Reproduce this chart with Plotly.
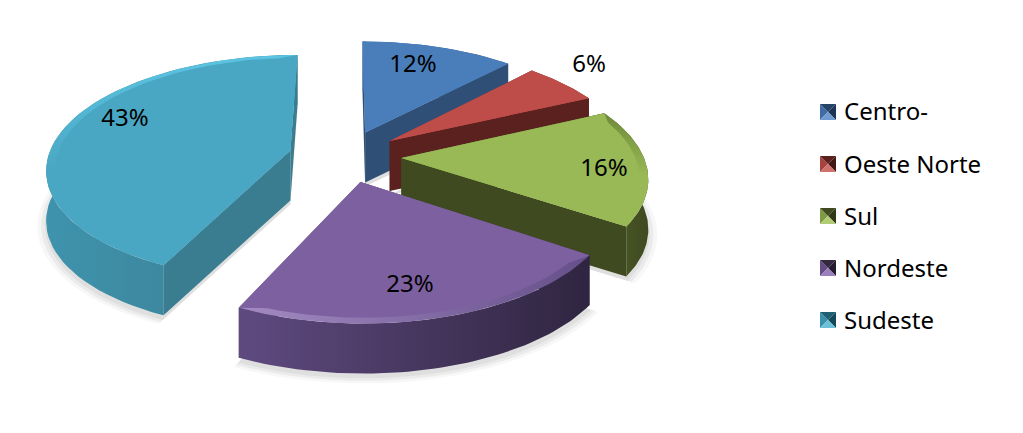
import math
import plotly.graph_objects as go

categories = ["Centro-", "Oeste Norte", "Sul", "Nordeste", "Sudeste"]
values = [12.0, 6.0, 16.45, 22.55, 43.0]
tick_labels = ["12%", "6%", "16%", "23%", "43%"]

top_colors = ["#4a7ebb", "#be4d4a", "#98b955", "#7d60a0", "#4aa7c3"]
cut_colors = ["#2f4f77", "#5a211f", "#3f4a20", "#33283f", "#3a7c90"]
rim_grad = [("#3f6ca5", "#2f4f77"), ("#8a3533", "#5a211f"), ("#4d5c28", "#3f4a20"),
            ("#5f4a80", "#2f2540"), ("#3f93ad", "#3a7c90")]
bevel_grad = [("horizontal", "#4a7ebb", "#4a7ebb"), ("horizontal", "#be4d4a", "#be4d4a"),
              ("vertical", "#98b955", "#6f8a38"), ("horizontal", "#a38ac2", "#66508a"),
              ("vertical", "#4aa7c3", "#5cc4e2")]
swatch = [("#3f6ca5", "#264468", "#1c3554", "#6f9bd1"),
          ("#a8423f", "#5a211f", "#421714", "#d0716e"),
          ("#7f9a45", "#3f4a20", "#2e3716", "#b0cc74"),
          ("#654b85", "#33283f", "#241b30", "#9a80ba"),
          ("#3a90aa", "#1f5f73", "#154858", "#6cc0d8")]
label_xy = [(413, 66), (589, 66), (604, 170), (410, 286), (125, 120)]

CX, CY, S, A, K, EXPL, H = 345.0, 156.0, 242.0, 111.5, 0.151, 0.233, 50.0
OFF = 8  # default page margin around the figure


def proj(u, v, z=0.0):
    d = 1 + K * v
    return CX + S * u / d, CY - A * v / d + z


def arc(a0, a1, bis, r=1.0, z=0.0, taper=False, n=60):
    xs, ys = [], []
    ou, ov = EXPL * math.sin(bis), EXPL * math.cos(bis)
    for i in range(n + 1):
        t = a0 + (a1 - a0) * i / n
        rr = r
        if taper:
            edge = min(t - a0, a1 - t) / math.radians(5)
            rr = 1 - (1 - r) * min(1, edge)
        x, y = proj(ou + rr * math.sin(t), ov + rr * math.cos(t), z)
        xs.append(x)
        ys.append(y)
    return xs, ys


def poly(xs, ys, color=None, grad=None):
    kw = dict(x=xs + xs[:1], y=ys + ys[:1], mode="lines", fill="toself",
              line=dict(width=0), hoverinfo="skip", showlegend=False)
    if grad:
        if grad[0] == "vertical":
            scale = [[0, grad[1]], [0.45, grad[1]], [1, grad[2]]]
        else:
            scale = [[0, grad[1]], [1, grad[2]]]
        kw["fillgradient"] = dict(type=grad[0], colorscale=scale)
        kw["fillcolor"] = grad[1]
    else:
        kw["fillcolor"] = color
    return go.Scatter(**kw)


total = sum(values)
wedges = []
acc = 0
for i, val in enumerate(values):
    a0 = 2 * math.pi * acc / total
    a1 = 2 * math.pi * (acc + val) / total
    acc += val
    wedges.append((i, a0, a1, (a0 + a1) / 2))

fig = go.Figure()

# ground shadow
for scale, alpha in ((1.035, 0.05), (1.02, 0.07), (1.005, 0.08)):
    for i, a0, a1, bis in wedges:
        ou, ov = EXPL * math.sin(bis), EXPL * math.cos(bis)
        xs, ys = arc(a0, a1, bis, r=scale, z=H + 4)
        ax, ay = proj(ou, ov, H + 4)
        fig.add_trace(poly([ax] + xs, [ay] + ys, f"rgba(90,90,90,{alpha})"))

for i, a0, a1, bis in sorted(wedges, key=lambda w: [0, 1, 2, 4, 3][w[0]]):
    ou, ov = EXPL * math.sin(bis), EXPL * math.cos(bis)
    ax, ay = proj(ou, ov)
    ex0, ey0 = proj(ou + math.sin(a0), ov + math.cos(a0))
    ex1, ey1 = proj(ou + math.sin(a1), ov + math.cos(a1))
    faces = [(a0 - math.pi / 2, ex0, ey0), (a1 + math.pi / 2, ex1, ey1)]

    def cut(ex, ey):
        return poly([ax, ex, ex, ax], [ay, ey, ey + H, ay + H], cut_colors[i])

    for d, ex, ey in faces:
        if math.cos(d) >= -1e-6:
            fig.add_trace(cut(ex, ey))
    xs, ys = arc(a0, a1, bis)
    xb, yb = arc(a0, a1, bis, z=H)
    fig.add_trace(poly(xs + xb[::-1], ys + yb[::-1],
                       grad=("horizontal",) + rim_grad[i]))
    for d, ex, ey in faces:
        if math.cos(d) < -1e-6:
            fig.add_trace(cut(ex, ey))
    fig.add_trace(poly([ax] + xs, [ay] + ys, grad=bevel_grad[i]))
    xi, yi = arc(a0, a1, bis, r=0.965, taper=True)
    fig.add_trace(poly([ax] + xi, [ay] + yi, top_colors[i]))

fig.add_trace(go.Scatter(
    x=[p[0] for p in label_xy], y=[p[1] for p in label_xy], text=tick_labels,
    mode="text", textposition="middle center", hoverinfo="skip", showlegend=False,
    textfont=dict(family="Noto Sans", size=24, color="#000000")))

shapes = []
for k, name in enumerate(categories):
    fig.add_trace(go.Scatter(
        x=[None], y=[None], mode="markers", name=name, legendgroup=name,
        marker=dict(symbol="square", size=14, color="rgba(0,0,0,0)")))
    cx, cy = 828, 112 + 52 * k
    r = 8
    left, top, right, bottom = swatch[k]
    for c, pts in ((left, [(cx - r, cy - r), (cx, cy), (cx - r, cy + r)]),
                   (top, [(cx - r, cy - r), (cx + r, cy - r), (cx, cy)]),
                   (right, [(cx + r, cy - r), (cx + r, cy + r), (cx, cy)]),
                   (bottom, [(cx - r, cy + r), (cx + r, cy + r), (cx, cy)])):
        path = "M" + " L".join(f"{x},{y}" for x, y in pts) + " Z"
        shapes.append(dict(type="path", path=path, fillcolor=c, line=dict(width=0),
                           xref="x", yref="y", layer="above"))

W, HT = 1023 - OFF, 433 - OFF
fig.update_layout(
    width=W, height=HT, margin=dict(l=0, r=0, t=0, b=0),
    paper_bgcolor="#ffffff", plot_bgcolor="#ffffff", shapes=shapes,
    xaxis=dict(range=[OFF, 1023], visible=False, fixedrange=True),
    yaxis=dict(range=[433, OFF], visible=False, fixedrange=True),
    showlegend=True, hovermode=False,
    legend=dict(x=(804 - OFF) / W, y=1 - (89 - OFF) / HT, xanchor="left", yanchor="top",
                bgcolor="rgba(0,0,0,0)", tracegroupgap=18, itemsizing="constant",
                font=dict(family="Noto Sans", size=24, color="#000000"),
                traceorder="grouped", itemclick=False, itemdoubleclick=False),
)
fig.write_html("out.html", config={"displayModeBar": False})
